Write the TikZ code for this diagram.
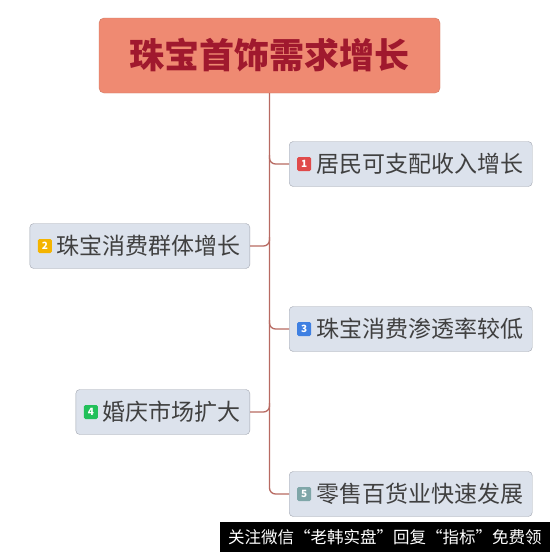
\documentclass[tikz,border=0pt]{standalone}
\usepackage{fontspec}
\setmainfont{Noto Sans CJK SC}
\usetikzlibrary{positioning,calc}
\definecolor{rootfill}{HTML}{EF8A72}
\definecolor{rootline}{HTML}{CF7A63}
\definecolor{rootink}{HTML}{A0192E}
\definecolor{limb}{HTML}{B86A62}
\definecolor{boxfill}{HTML}{DCE2EC}
\definecolor{boxline}{HTML}{A2A6B0}
\definecolor{boxink}{HTML}{404040}
\definecolor{iconred}{HTML}{E04A4A}
\definecolor{iconyellow}{HTML}{F4B400}
\definecolor{iconblue}{HTML}{3F80E2}
\definecolor{icongreen}{HTML}{22C05A}
\definecolor{icongrey}{HTML}{7FA6A8}
\tikzset{rootbox/.style={rectangle,draw=rootline,fill=rootfill,rounded corners=5pt,minimum width=341pt,minimum height=75pt,text=rootink,font=\fontsize{35}{35}\selectfont\bfseries},topic/.style={rectangle,draw=boxline,fill=boxfill,rounded corners=4pt,minimum height=45pt,inner xsep=9pt,text=boxink,font=\fontsize{23}{25}\selectfont},badge/.style={rectangle,rounded corners=1.5pt,minimum size=14pt,inner sep=0pt,anchor=west,text=white,font=\fontsize{10}{10}\selectfont\bfseries},branch/.style={draw=limb,line width=1.3pt,rounded corners=6pt},adbar/.style={rectangle,fill=black,minimum width=330pt,minimum height=30pt,inner sep=0pt,text=white,font=\fontsize{16.5}{17}\selectfont}}

\begin{document}
\begin{tikzpicture}[x=1pt,y=-1pt]
\useasboundingbox[fill=white] (0,0) rectangle (550,552);
\node[rootbox] (root) at (269.5,55.5) {珠宝首饰需求增长};
\foreach \n/\a/\x/\y/\c/\t in {1/west/289/164/iconred/居民可支配收入增长,2/east/250/246/iconyellow/珠宝消费群体增长,3/west/289/329/iconblue/珠宝消费渗透率较低,4/east/250/412/icongreen/婚庆市场扩大,5/west/289/494/icongrey/零售百货业快速发展}{
\node[topic,anchor=\a] (t\n) at (\x,\y) {\hspace{18pt}\t\hspace{6pt}};
\node[badge,fill=\c,right=8pt of t\n.west] (b\n) {\n};
}
% trunk and branches
\draw[branch] (root.south) |- (t5.west);
\foreach \n in {1,3}{\draw[branch] ($(root.south|-t\n.west)+(0,9pt)$) |- (t\n.west);}
\foreach \n in {2,4}{\draw[branch] (t\n.east) -| ($(root.south|-t\n.east)+(0,9pt)$);}
\node[adbar,anchor=south east] (ad) at (550,552) {关注微信“老韩实盘”回复“指标”免费领};
\end{tikzpicture}
\end{document}
